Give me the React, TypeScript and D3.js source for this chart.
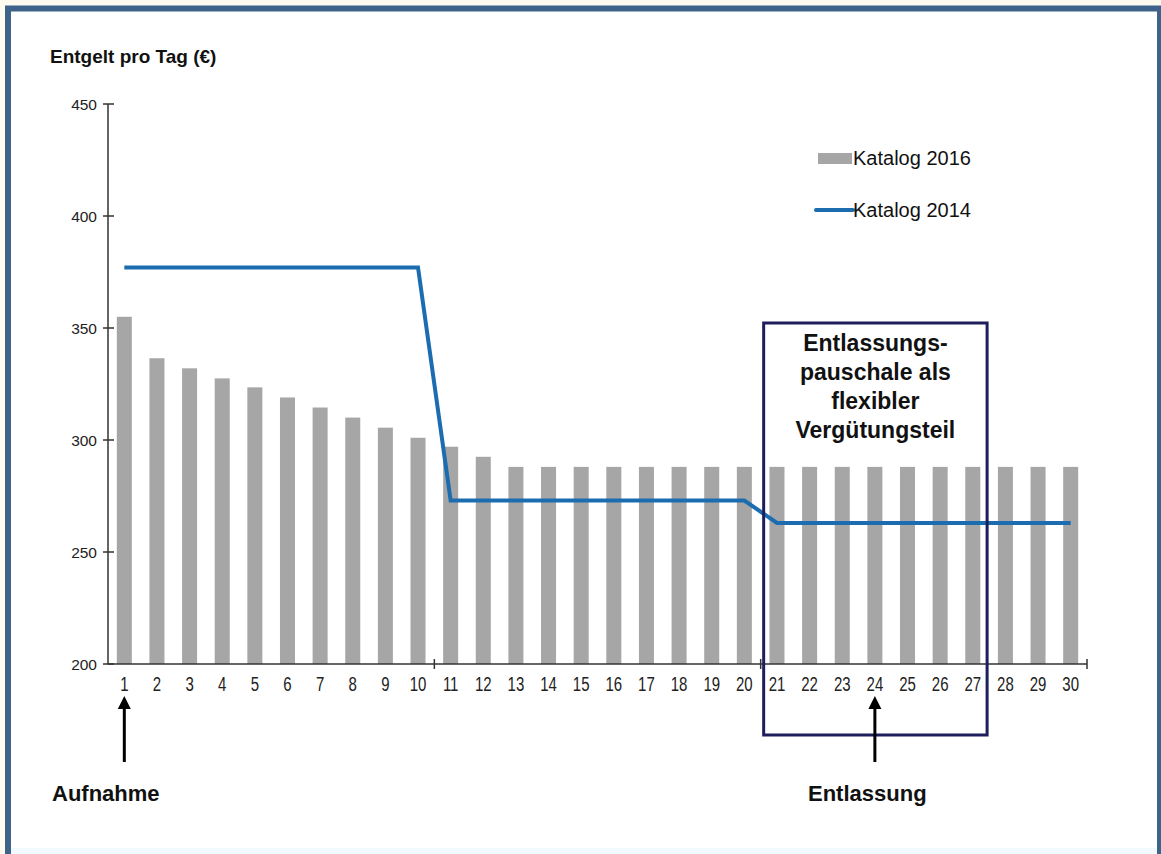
import React from "react";
import * as d3 from "d3";

const days: number[] = d3.range(1, 31);
const katalog2016: number[] = [
  355, 336.5, 332, 327.5, 323.5, 319, 314.5, 310, 305.5, 301,
  297, 292.5, 288, 288, 288, 288, 288, 288, 288, 288,
  288, 288, 288, 288, 288, 288, 288, 288, 288, 288,
];
const katalog2014: number[] = [
  377, 377, 377, 377, 377, 377, 377, 377, 377, 377,
  273, 273, 273, 273, 273, 273, 273, 273, 273, 273,
  263, 263, 263, 263, 263, 263, 263, 263, 263, 263,
];
const yTicks: number[] = [200, 250, 300, 350, 400, 450];
const majorXTicks: number[] = [10, 20, 30];
const boxLines: string[] = ["Entlassungs-", "pauschale als", "flexibler", "Vergütungsteil"];
const legendLabels = { bars: "Katalog 2016", line: "Katalog 2014" };
const yTitle = "Entgelt pro Tag (€)";
const markers = [
  { day: 1, label: "Aufnahme", labelX: 52 },
  { day: 24, label: "Entlassung", labelX: 808 },
];

const W = 1161;
const H = 854;
const left = 108;
const right = 1087;
const top = 104;
const bottom = 664;
const FONT = "Arial, 'Liberation Sans', Helvetica, sans-serif";

export default function App() {
  const x = d3
    .scaleBand<number>()
    .domain(days)
    .range([left, right])
    .paddingInner(0.54)
    .paddingOuter(0.27);
  const step = x.step();
  const bandStart = (d: number) => left + (d - 1) * step;
  const cx = (d: number) => (x(d) as number) + x.bandwidth() / 2;
  const y = d3.scaleLinear().domain([200, 450]).range([bottom, top]);

  const line = d3
    .line<number>()
    .x((_, i) => cx(days[i]))
    .y((v) => y(v));

  const boxL = bandStart(21) + 3;
  const boxR = bandStart(28) - 2;

  return (
    <svg
      width={W}
      height={H}
      style={{ position: "absolute", left: 0, top: 0, display: "block" }}
    >
      <rect x={0} y={0} width={W} height={H} fill="#fdfbf0" />
      <rect x={8} y={8.5} width={1152} height={852} fill="#ffffff" stroke="#3f628a" strokeWidth={6} />
      <rect x={11} y={848} width={1146} height={6} fill="#f3faff" />

      <text x={50} y={63} fontFamily={FONT} fontWeight="bold" fontSize={19} fill="#111">
        {yTitle}
      </text>

      {/* bars */}
      {days.map((d, i) => (
        <rect
          key={d}
          x={x(d)}
          y={y(katalog2016[i])}
          width={x.bandwidth()}
          height={bottom - y(katalog2016[i])}
          fill="#a6a6a6"
        />
      ))}

      {/* y axis */}
      <line x1={left} x2={left} y1={top} y2={bottom} stroke="#333" strokeWidth={1.5} />
      {yTicks.map((t) => (
        <g key={t}>
          <line x1={103} x2={114} y1={y(t)} y2={y(t)} stroke="#333" strokeWidth={1.5} />
          <text
            x={97}
            y={y(t) + 5.5}
            textAnchor="end"
            fontFamily={FONT}
            fontSize={15.5}
            fill="#222"
          >
            {t}
          </text>
        </g>
      ))}

      {/* x axis */}
      <line x1={left} x2={right} y1={bottom} y2={bottom} stroke="#333" strokeWidth={1.5} />
      {majorXTicks.map((d) => (
        <line
          key={d}
          x1={bandStart(d) + step}
          x2={bandStart(d) + step}
          y1={bottom - 5}
          y2={bottom + 5}
          stroke="#333"
          strokeWidth={1.5}
        />
      ))}
      {days.map((d) => (
        <text
          key={d}
          transform={`translate(${cx(d)},691) scale(1,1.3)`}
          textAnchor="middle"
          fontFamily={FONT}
          fontSize={15}
          fill="#222"
        >
          {d}
        </text>
      ))}

      {/* line */}
      <path d={line(katalog2014) || ""} fill="none" stroke="#1b6db0" strokeWidth={4} />

      {/* legend */}
      <rect x={818} y={153} width={34} height={11} fill="#a6a6a6" />
      <text x={853} y={165} fontFamily={FONT} fontSize={20} fill="#111">
        {legendLabels.bars}
      </text>
      <line x1={816} x2={853} y1={210} y2={210} stroke="#1b6db0" strokeWidth={4} strokeLinecap="round" />
      <text x={853} y={217} fontFamily={FONT} fontSize={20} fill="#111">
        {legendLabels.line}
      </text>

      {/* box */}
      <rect
        x={boxL}
        y={323}
        width={boxR - boxL}
        height={412}
        fill="none"
        stroke="#1e1e5c"
        strokeWidth={3}
      />
      {boxLines.map((s, i) => (
        <text
          key={s}
          x={(boxL + boxR) / 2}
          y={351 + i * 29}
          textAnchor="middle"
          fontFamily={FONT}
          fontWeight="bold"
          fontSize={23}
          fill="#111"
        >
          {s}
        </text>
      ))}

      {/* arrows and labels */}
      {markers.map((m) => {
        const ax = cx(m.day);
        return (
          <g key={m.day}>
            <line x1={ax} x2={ax} y1={706} y2={762} stroke="#000" strokeWidth={3} />
            <path d={`M${ax},696 L${ax - 6.5},709 L${ax + 6.5},709 Z`} fill="#000" />
            <text
              x={m.labelX}
              y={801}
              fontFamily={FONT}
              fontWeight="bold"
              fontSize={22}
              fill="#111"
            >
              {m.label}
            </text>
          </g>
        );
      })}
    </svg>
  );
}
